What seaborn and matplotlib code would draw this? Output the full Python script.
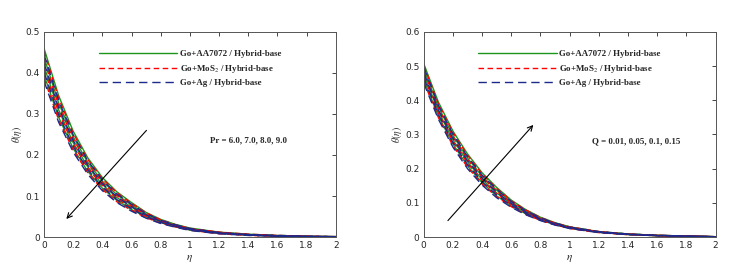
import numpy as np
import pandas as pd
import seaborn as sns
import matplotlib.pyplot as plt

eta = [0, 0.1, 0.2, 0.3, 0.4, 0.5, 0.6, 0.7, 0.8, 0.9, 1.0, 1.2, 1.4, 1.6, 1.8, 2.0]

# left panel: Pr = 6, 7, 8, 9
pr_values = ['6.0', '7.0', '8.0', '9.0']
pr_aa7072 = [
    [.460, .345, .258, .193, .145, .110, .084, .060, .043, .031, .022, .012, .007, .004, .002, .001],
    [.438, .327, .244, .182, .136, .103, .078, .056, .040, .029, .020, .011, .006, .003, .002, .001],
    [.416, .310, .230, .171, .128, .096, .073, .052, .038, .027, .019, .010, .005, .003, .001, .000],
    [.395, .292, .216, .160, .119, .089, .067, .049, .035, .025, .017, .009, .005, .002, .001, .000],
]
pr_mos2 = [
    [.453, .339, .253, .189, .142, .108, .082, .059, .042, .030, .021, .012, .007, .004, .002, .001],
    [.431, .321, .239, .178, .133, .101, .076, .055, .039, .028, .020, .011, .006, .003, .002, .001],
    [.409, .304, .226, .168, .125, .093, .071, .051, .037, .027, .018, .010, .005, .003, .001, .000],
    [.387, .286, .212, .157, .116, .086, .065, .047, .034, .025, .017, .008, .004, .002, .001, .000],
]
pr_ag = [
    [.445, .333, .249, .186, .139, .105, .080, .057, .041, .030, .021, .011, .006, .004, .002, .001],
    [.424, .315, .235, .175, .130, .098, .074, .054, .038, .028, .019, .010, .006, .003, .002, .001],
    [.402, .298, .221, .164, .122, .091, .069, .050, .036, .026, .018, .009, .005, .002, .001, .000],
    [.380, .280, .207, .153, .113, .084, .063, .046, .033, .024, .016, .008, .004, .002, .001, .000],
]

# right panel: Q = 0.01, 0.05, 0.1, 0.15
q_values = ['0.01', '0.05', '0.1', '0.15']
q_aa7072 = [
    [.460, .354, .272, .208, .159, .120, .091, .068, .050, .036, .026, .014, .007, .004, .002, .001],
    [.476, .368, .284, .220, .168, .129, .097, .072, .053, .038, .027, .014, .008, .004, .002, .001],
    [.491, .381, .297, .231, .178, .137, .102, .076, .055, .040, .029, .015, .009, .005, .003, .001],
    [.507, .395, .310, .243, .188, .145, .108, .080, .058, .042, .030, .016, .009, .005, .003, .001],
]
q_mos2 = [
    [.455, .350, .267, .204, .155, .118, .089, .066, .049, .036, .025, .013, .007, .004, .002, .001],
    [.471, .363, .280, .216, .165, .126, .095, .070, .052, .038, .027, .014, .008, .004, .002, .001],
    [.486, .377, .293, .227, .175, .134, .100, .075, .054, .039, .028, .015, .008, .005, .003, .001],
    [.502, .390, .306, .239, .185, .142, .106, .079, .057, .041, .030, .016, .009, .005, .003, .001],
]
q_ag = [
    [.450, .345, .263, .200, .152, .115, .087, .065, .048, .035, .025, .013, .007, .004, .002, .001],
    [.466, .359, .276, .212, .162, .123, .093, .069, .051, .037, .026, .014, .008, .004, .002, .001],
    [.481, .372, .289, .223, .172, .131, .098, .073, .053, .039, .028, .015, .008, .005, .003, .001],
    [.497, .386, .301, .235, .181, .140, .104, .077, .056, .041, .029, .016, .009, .005, .003, .001],
]

fluids = ['Go+AA7072 / Hybrid-base', r'Go+MoS$_{2}$ / Hybrid-base', 'Go+Ag / Hybrid-base']
colors = {fluids[0]: '#1e961e', fluids[1]: '#ff0000', fluids[2]: '#1c2a8c'}
dashes = {fluids[0]: '', fluids[1]: (4, 2.5), fluids[2]: (6, 3.5)}


def make_df(params, aa, mos, ag):
    rows = []
    for fl, arr in zip(fluids, [aa, mos, ag]):
        for p, curve in zip(params, arr):
            for x, y in zip(eta, curve):
                rows.append((fl, p, x, y))
    return pd.DataFrame(rows, columns=['fluid', 'param', 'eta', 'theta'])


df_pr = make_df(pr_values, pr_aa7072, pr_mos2, pr_ag)
df_q = make_df(q_values, q_aa7072, q_mos2, q_ag)

sns.set_style('white')
plt.rcParams['font.family'] = ['DejaVu Sans']
plt.rcParams['mathtext.fontset'] = 'stix'

fig = plt.figure(figsize=(7.5, 2.75), dpi=100)
ax1 = fig.add_axes([0.0587, 0.138, 0.389, 0.746])
ax2 = fig.add_axes([0.565, 0.138, 0.389, 0.746])

for ax, df, ymax, note, arrow in [
    (ax1, df_pr, 0.5, 'Pr = 6.0, 7.0, 8.0, 9.0', ((0.715, 0.265), (0.14, 0.039), (1.137, 0.235))),
    (ax2, df_q, 0.6, 'Q = 0.01, 0.05, 0.1, 0.15', ((0.153, 0.042), (0.764, 0.334), (1.15, 0.28))),
]:
    sns.lineplot(data=df, x='eta', y='theta', hue='fluid', style='fluid', units='param',
                 estimator=None, palette=colors, dashes=dashes, hue_order=fluids,
                 style_order=fluids, lw=1.0, sort=False, ax=ax)
    handles, labels = ax.get_legend_handles_labels()
    ax.legend(handles, labels, loc='upper left', bbox_to_anchor=(0.16, 0.95), frameon=False,
              handlelength=8.8, handletextpad=0.3, labelspacing=0.5,
              prop={'family': 'Liberation Serif', 'weight': 'bold', 'size': 6.4})
    ax.set_xlim(0, 2)
    ax.set_ylim(0, ymax)
    ax.set_xticks(np.arange(0, 2.01, 0.2))
    ax.set_xticklabels(['0', '0.2', '0.4', '0.6', '0.8', '1', '1.2', '1.4', '1.6', '1.8', '2'])
    ax.set_yticks(np.arange(0, ymax + 0.01, 0.1))
    ax.set_yticklabels(['0'] + [f'{v:.1f}' for v in np.arange(0.1, ymax + 0.01, 0.1)])
    ax.tick_params(direction='in', length=3, width=0.6, labelsize=6.5, colors='#262626',
                   top=True, right=True, pad=3)
    for sp in ax.spines.values():
        sp.set_color('#555555')
        sp.set_linewidth(0.7)
    ax.set_xlabel(r'$\eta$', fontsize=8, labelpad=2)
    ax.set_ylabel(r'$\theta(\eta)$', fontsize=7, labelpad=1)
    start, end, txt = arrow
    ax.annotate('', xy=end, xytext=start,
                arrowprops=dict(arrowstyle='->', color='black', lw=0.8, mutation_scale=9))
    ax.text(txt[0], txt[1], note, fontsize=6.4, fontweight='bold', family='Liberation Serif',
            va='center', ha='left')

fig.savefig('out.png', dpi=100)
